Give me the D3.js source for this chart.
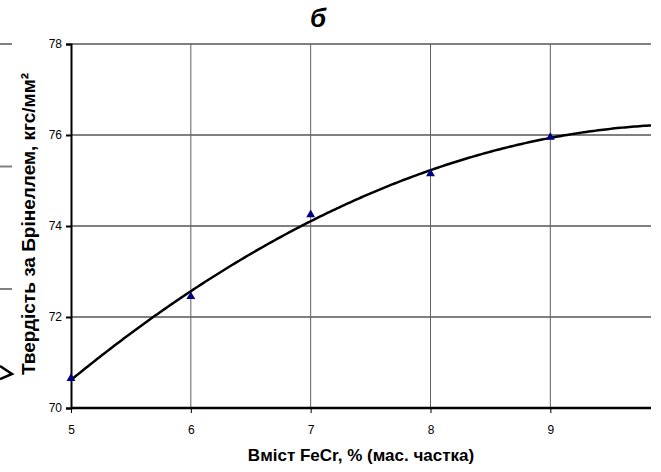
<!DOCTYPE html>
<meta charset="utf-8">
<style>
  body { margin: 0; background: #fff; }
  text { font-family: "Liberation Sans", Arial, sans-serif; }
</style>
<div id="chart_div"></div>
<script src="https://cdn.jsdelivr.net/npm/d3@7"></script>
<script>

// FeCr content, % and Brinell hardness
let fecr = [5, 6, 7, 8, 9];
let hardness = [70.65, 72.45, 74.25, 75.15, 75.95];
let x_ticks = [5, 6, 7, 8, 9];
let y_ticks = [70, 72, 74, 76, 78];

let margin = {top: 44, right: 10, bottom: 64, left: 71},
    width = 661, height = 472,
    plot_w = width - margin.left - margin.right,
    plot_h = height - margin.top - margin.bottom;

let svg = d3.select("#chart_div")
  .append("svg")
    .attr("width", width)
    .attr("height", height);

// pieces of the neighbouring chart cut off on the left
let stub_y = d3.scaleLinear().domain([0, 2]).range([44, 289]);
svg.append("g").selectAll("line")
  .data([0, 1, 2])
  .enter().append("line")
    .attr("x1", 0).attr("x2", 12)
    .attr("y1", d => stub_y(d)).attr("y2", d => stub_y(d))
    .attr("stroke", "#808080").attr("stroke-width", 2);
svg.append("path")
    .attr("d", "M0,366L12,374L0,379")
    .attr("fill", "none").attr("stroke", "#000").attr("stroke-width", 2.5);

let g = svg.append("g")
    .attr("transform", "translate(" + margin.left + "," + margin.top + ")");

let x = d3.scaleLinear().domain([5, 9.84]).range([0, plot_w]);
let y = d3.scaleLinear().domain([70, 78]).range([plot_h, 0]);

// horizontal grid
g.append("g").selectAll("line")
  .data(y_ticks.slice(1))
  .enter().append("line")
    .attr("x1", 0).attr("x2", plot_w)
    .attr("y1", d => y(d)).attr("y2", d => y(d))
    .attr("stroke", "#808080").attr("stroke-width", 2);

// vertical grid
g.append("g").selectAll("line")
  .data(x_ticks.slice(1))
  .enter().append("line")
    .attr("x1", d => x(d)).attr("x2", d => x(d))
    .attr("y1", 0).attr("y2", plot_h)
    .attr("stroke", "#606060").attr("stroke-width", 1);

// second order polynomial trendline (least squares)
let xm = d3.mean(fecr), ym = d3.mean(hardness);
let t = fecr.map(v => v - xm);
let t2m = d3.mean(t, v => v * v);
let b1 = d3.sum(t, (v, i) => v * hardness[i]) / d3.sum(t, v => v * v);
let q = t.map(v => v * v - t2m);
let b2 = d3.sum(q, (v, i) => v * hardness[i]) / d3.sum(q, v => v * v);
let trend = v => ym + b1 * (v - xm) + b2 * ((v - xm) * (v - xm) - t2m);

let xs = d3.range(5, 9.84 + 1e-9, 0.02);
g.append("path")
  .datum(xs)
  .attr("d", d3.line().x(d => x(d)).y(d => y(trend(d))))
  .attr("fill", "none")
  .attr("stroke", "black")
  .attr("stroke-width", 2.5);

// x axis
let x_axis = g.append("g")
    .attr("transform", "translate(0," + plot_h + ")")
    .call(d3.axisBottom(x).tickValues(x_ticks).tickFormat(d3.format("d")).tickSizeOuter(0).tickSize(5).tickPadding(12));
x_axis.select(".domain").attr("stroke-width", 2.5).attr("d", "M0,0H" + plot_w);
x_axis.selectAll(".tick line").attr("stroke-width", 1);
x_axis.selectAll("text").style("font-size", "12px").attr("fill", "#000");

// y axis
let y_axis = g.append("g")
    .call(d3.axisLeft(y).tickValues(y_ticks).tickFormat(d3.format("d")).tickSizeOuter(0).tickSize(5).tickPadding(4));
y_axis.select(".domain").attr("stroke-width", 2);
y_axis.selectAll(".tick line").attr("stroke-width", 2);
y_axis.selectAll("text").style("font-size", "12px").attr("fill", "#000");

// data points
g.selectAll(".data_point")
  .data(fecr)
  .enter().append("path")
    .attr("class", "data_point")
    .attr("d", d3.symbol().type(d3.symbolTriangle).size(34))
    .attr("transform", (d, i) => "translate(" + x(d) + "," + y(hardness[i]) + ")")
    .attr("fill", "#000080");

// titles
svg.append("text")
    .attr("x", 318).attr("y", 27)
    .attr("text-anchor", "middle")
    .style("font-size", "26px").style("font-weight", "bold").style("font-style", "italic")
    .text("б");

svg.append("text")
    .attr("x", 361).attr("y", 461)
    .attr("text-anchor", "middle")
    .style("font-size", "17px").style("font-weight", "bold")
    .text("Вміст FeCr, % (мас. частка)");

svg.append("text")
    .attr("transform", "translate(35,224) rotate(-90)")
    .attr("text-anchor", "middle")
    .style("font-size", "19px").style("font-weight", "bold")
    .text("Твердість за Брінеллем, кгс/мм²");

</script>
